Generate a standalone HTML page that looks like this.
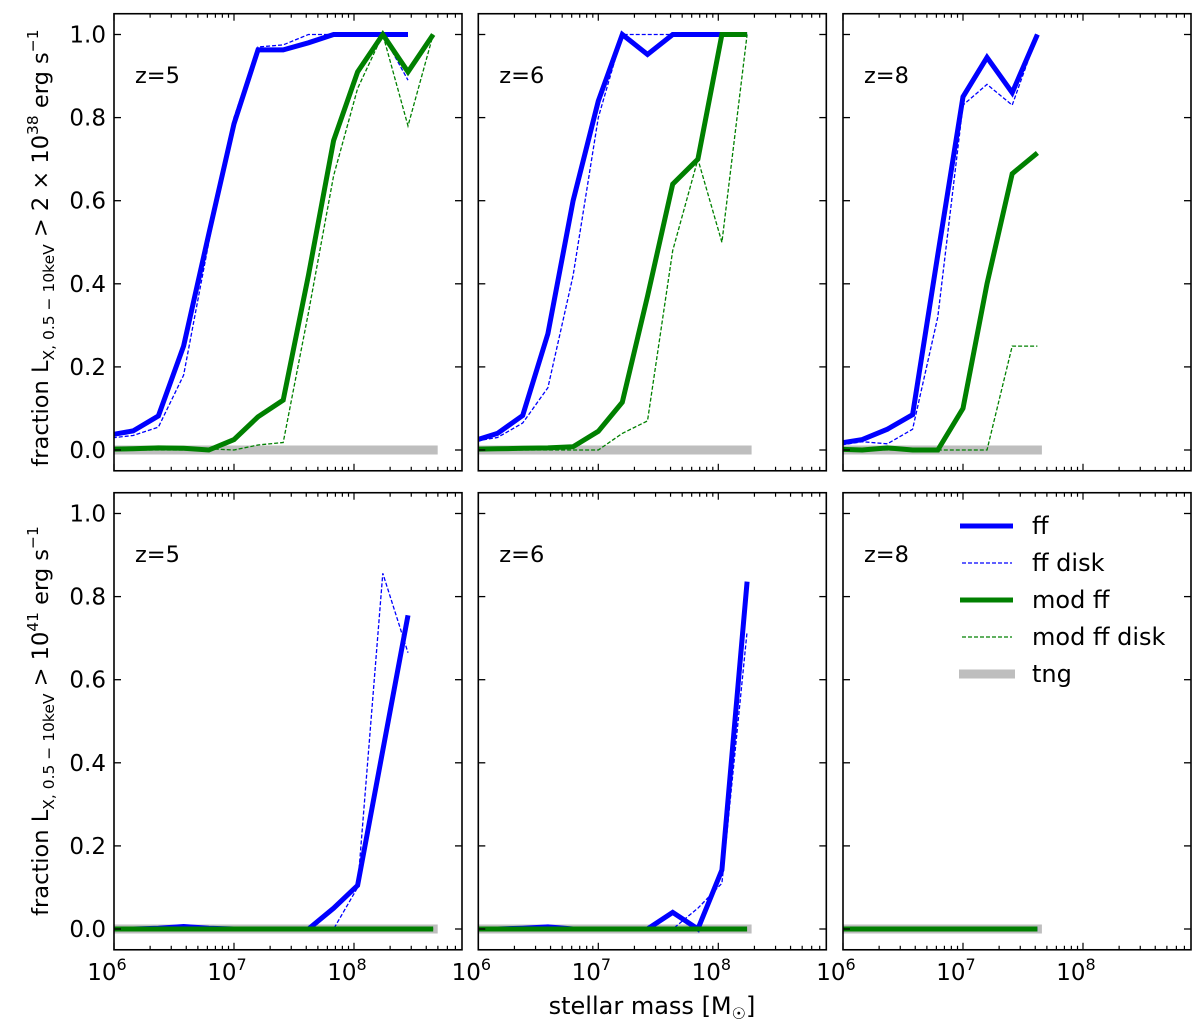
<!DOCTYPE html>
<html><head><meta charset="utf-8"><style>
html,body{margin:0;padding:0;background:#fff;}
svg{display:block;font-family:"DejaVu Sans","Liberation Sans",sans-serif;}
</style></head><body>
<svg id="chart" width="1200" height="1034" viewBox="0 0 1200 1034" xmlns="http://www.w3.org/2000/svg">
<g id="layer"></g>
<text transform="translate(48,248) rotate(-90)" text-anchor="middle" font-size="22.5">fraction L<tspan font-size="15.5" dy="6">X, 0.5 − 10keV</tspan><tspan dy="-6"> &gt; 2 × 10</tspan><tspan font-size="15.5" dy="-10">38</tspan><tspan dy="10"> erg s</tspan><tspan font-size="15.5" dy="-10">−1</tspan></text>
<text transform="translate(48,721) rotate(-90)" text-anchor="middle" font-size="22.5">fraction L<tspan font-size="15.5" dy="6">X, 0.5 − 10keV</tspan><tspan dy="-6"> &gt; 10</tspan><tspan font-size="15.5" dy="-10">41</tspan><tspan dy="10"> erg s</tspan><tspan font-size="15.5" dy="-10">−1</tspan></text>
<text x="652" y="1014" text-anchor="middle" font-size="24">stellar mass [M<tspan font-size="16" dy="5">☉</tspan><tspan dy="-5">]</tspan></text>
<g>
<line x1="960" y1="526" x2="1013" y2="526" stroke="#0000ff" stroke-width="5"/>
<text x="1032" y="534" font-size="24">ff</text>
<line x1="962" y1="563" x2="1012" y2="563" stroke="#0000ff" stroke-width="1.3" stroke-dasharray="4,2"/>
<text x="1032" y="571" font-size="24">ff disk</text>
<line x1="960" y1="600" x2="1013" y2="600" stroke="#008000" stroke-width="5"/>
<text x="1032" y="608" font-size="24">mod ff</text>
<line x1="962" y1="637" x2="1012" y2="637" stroke="#008000" stroke-width="1.3" stroke-dasharray="4,2"/>
<text x="1032" y="645" font-size="24">mod ff disk</text>
<line x1="959" y1="674" x2="1015" y2="674" stroke="#bebebe" stroke-width="9"/>
<text x="1032" y="682" font-size="24">tng</text>
</g>
</svg>
<script>
const logMass = [5.94,6.16,6.37,6.58,6.79,7.0,7.2,7.41,7.62,7.83,8.03,8.24,8.45,8.66];
const redshiftLabels = ["z=5","z=6","z=8"];
const yTicks = [0,0.2,0.4,0.6,0.8,1.0];
const yTickLabels = ["0.0","0.2","0.4","0.6","0.8","1.0"];
const xDecades = [6,7,8];
// top row (> 2e38)
const top5_ff   = [0.035,0.046,0.082,0.25,0.52,0.785,0.963,0.963,0.98,1,1,1,1];
const top5_ffd  = [0.028,0.035,0.055,0.18,0.5,0.8,0.97,0.975,1,1,1,1,0.89];
const top5_mod  = [0.002,0.003,0.005,0.004,0.0,0.025,0.08,0.12,0.42,0.745,0.91,1.0,0.91,1.0];
const top5_modd = [0,0,0,0,0.003,0.0,0.012,0.018,0.33,0.66,0.87,1.0,0.78,1.0];
const top5_tng  = [0,0,0,0,0,0,0,0,0,0,0,0,0,0];
const top6_ff   = [0.02,0.04,0.083,0.28,0.6,0.84,1,0.952,1,1,1,1];
const top6_ffd  = [0.02,0.03,0.065,0.15,0.42,0.8,1,1,1,1,1,1];
const top6_mod  = [0.002,0.003,0.004,0.005,0.008,0.045,0.115,0.37,0.64,0.7,1.0,1.0];
const top6_modd = [0,0,0,0,0,0,0.04,0.07,0.48,0.7,0.5,1.0];
const top6_tng  = [0,0,0,0,0,0,0,0,0,0,0,0];
const top8_ff   = [0.015,0.025,0.05,0.085,0.47,0.85,0.945,0.86,1.0];
const top8_ffd  = [0.01,0.02,0.015,0.05,0.32,0.83,0.88,0.83,1.0];
const top8_mod  = [0.002,0.0,0.005,0.0,0.0,0.1,0.4,0.665,0.715];
const top8_modd = [0,0,0,0,0,0,0,0.25,0.25];
const top8_tng  = [0,0,0,0,0,0,0,0,0];
// bottom row (> 1e41)
const bot5_ff   = [0,0,0.002,0.006,0.002,0,0,0,0,0.05,0.105,0.43,0.755];
const bot5_ffd  = [0,0,0,0.003,0,0,0,0,0,0,0.1,0.856,0.665];
const bot5_mod  = [0,0,0,0,0,0,0,0,0,0,0,0,0,0];
const bot5_modd = [0,0,0,0,0,0,0,0,0,0,0,0,0,0];
const bot5_tng  = [0,0,0,0,0,0,0,0,0,0,0,0,0,0];
const bot6_ff   = [0,0,0.002,0.005,0,0,0,0,0.04,0,0.142,0.836];
const bot6_ffd  = [0,0,0,0.003,0,0,0,0,0,0.05,0.11,0.716];
const bot6_mod  = [0,0,0,0,0,0,0,0,0,0,0,0];
const bot6_modd = [0,0,0,0,0,0,0,0,0,0,0,0];
const bot6_tng  = [0,0,0,0,0,0,0,0,0,0,0,0];
const bot8_ff   = [0,0,0,0,0,0,0,0,0];
const bot8_ffd  = [0,0,0,0,0,0,0,0,0];
const bot8_mod  = [0,0,0,0,0,0,0,0,0];
const bot8_modd = [0,0,0,0,0,0,0,0,0];
const bot8_tng  = [0,0,0,0,0,0,0,0,0];

const NS="http://www.w3.org/2000/svg";
const layer=document.getElementById('layer');
const colLeft=[114,478.3,843], W=348, PXDEC=120;
const rowZero=[450,929], PXUNIT=415.5;
function xS(c,lm){return colLeft[c]+(lm-6)*PXDEC;}
function yS(r,v){return rowZero[r]-v*PXUNIT;}
function mk(tag,attrs,parent){const e=document.createElementNS(NS,tag);for(const k in attrs)e.setAttribute(k,attrs[k]);(parent||layer).appendChild(e);return e;}

const panels=[
 [ [top5_tng,top5_ff,top5_ffd,top5_mod,top5_modd],[top6_tng,top6_ff,top6_ffd,top6_mod,top6_modd],[top8_tng,top8_ff,top8_ffd,top8_mod,top8_modd] ],
 [ [bot5_tng,bot5_ff,bot5_ffd,bot5_mod,bot5_modd],[bot6_tng,bot6_ff,bot6_ffd,bot6_mod,bot6_modd],[bot8_tng,bot8_ff,bot8_ffd,bot8_mod,bot8_modd] ]
];
const styles=[
 {name:'tng',stroke:'#bebebe',w:9,dash:null,cap:'square'},
 {name:'ff',stroke:'#0000ff',w:5,dash:null,cap:'butt'},
 {name:'ff-disk',stroke:'#0000ff',w:1.3,dash:'4,2',cap:'butt'},
 {name:'mod-ff',stroke:'#008000',w:5,dash:null,cap:'butt'},
 {name:'mod-ff-disk',stroke:'#008000',w:1.3,dash:'4,2',cap:'butt'}
];
const drawOrder=[0,2,4,1,3];
for(let r=0;r<2;r++){
 for(let c=0;c<3;c++){
  const x0=colLeft[c], yTop=yS(r,1.05), yBot=yS(r,-0.05);
  const g=mk('g',{});
  
  
  const cid='clip'+r+c;
  const cp=mk('clipPath',{id:cid},g);
  mk('rect',{x:x0,y:yTop,width:W,height:yBot-yTop},cp);
  const sg=mk('g',{'clip-path':'url(#'+cid+')'},g);
  for(const si of drawOrder){
   const data=panels[r][c][si], st=styles[si];
   const pts=data.map((v,i)=>xS(c,logMass[i]).toFixed(1)+','+yS(r,v).toFixed(1)).join(' ');
   const pl=mk('polyline',{points:pts,fill:'none',stroke:st.stroke,'stroke-width':st.w,'stroke-linejoin':'miter','stroke-linecap':st.cap},sg);
   if(st.dash)pl.setAttribute('stroke-dasharray',st.dash);
   
   
  }
  const fr=mk('rect',{x:x0,y:yTop,width:W,height:yBot-yTop,fill:'none',stroke:'#000','stroke-width':1.6},g);
  
  
  yTicks.forEach((t,i)=>{
   const yy=yS(r,t);
   mk('line',{x1:x0,y1:yy,x2:x0+7,y2:yy,stroke:'#000','stroke-width':1.3},g);
   mk('line',{x1:x0+W,y1:yy,x2:x0+W-7,y2:yy,stroke:'#000','stroke-width':1.3},g);
   if(c===0){
    const tl=mk('text',{x:x0-8,y:yy+8,'text-anchor':'end','font-size':23},g);
    tl.textContent=yTickLabels[i];
    
    
   }
  });
  for(let d=6;d<=8;d++){
   for(let k=1;k<=9;k++){
    const lm=d+Math.log10(k);
    const xx=xS(c,lm);
    if(xx>x0+W-0.5)continue;
    const L=(k===1)?7:4;
    mk('line',{x1:xx,y1:yBot,x2:xx,y2:yBot-L,stroke:'#000','stroke-width':1.2},g);
    mk('line',{x1:xx,y1:yTop,x2:xx,y2:yTop+L,stroke:'#000','stroke-width':1.2},g);
   }
  }
  if(r===1){
   xDecades.forEach(d=>{
    const xx=xS(c,d);
    const tl=mk('text',{x:xx-7,y:980,'text-anchor':'middle','font-size':23},g);
    tl.textContent='10';
    const sp=mk('tspan',{'font-size':16,dy:-10},tl);
    sp.textContent=String(d);
    
    
   });
  }
  const zl=mk('text',{x:x0+21,y:yS(r,0.9)+7,'font-size':22.5},g);
  zl.textContent=redshiftLabels[c];
  
  
 }
}
</script>
</body></html>
